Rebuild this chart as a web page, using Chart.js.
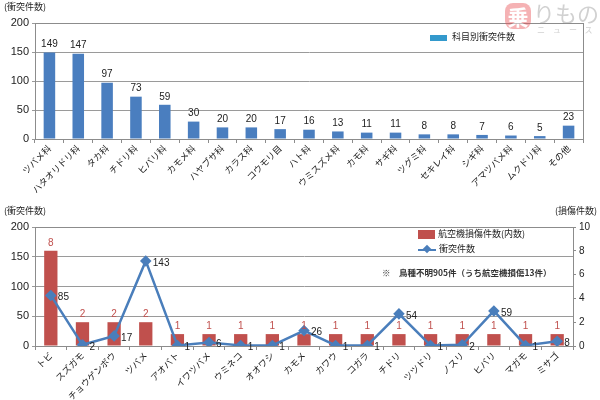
<!DOCTYPE html>
<html>
<head>
<meta charset="utf-8">
<script src="https://cdn.jsdelivr.net/npm/chart.js@4.4.0/dist/chart.umd.min.js"></script>
<style>
body{margin:0;width:600px;height:400px;position:relative;background:#fff;overflow:hidden;font-family:"Noto Sans CJK JP",sans-serif}
canvas{position:absolute;left:0}
.txt{position:absolute;white-space:nowrap;color:#222;font-size:9px;line-height:12px}
.sw{display:inline-block;vertical-align:middle}
.logo{position:absolute;opacity:.45;white-space:nowrap}
</style>
</head>
<body>
<canvas id="topChart" width="600" height="200" style="top:0"></canvas>
<canvas id="bottomChart" width="600" height="200" style="top:200px"></canvas>

<div class="txt" style="left:4px;top:1px">(衝突件数)</div>
<div class="txt" style="left:430px;top:31px"><span class="sw" style="width:17px;height:6px;background:#3399cc;margin-right:5px"></span>科目別衝突件数</div>

<div class="txt" style="left:4px;top:205px">(衝突件数)</div>
<div class="txt" style="left:555px;top:205px">(損傷件数)</div>
<div class="txt" style="left:418px;top:228px"><span class="sw" style="width:17px;height:9px;background:#c0504d;margin-right:3px"></span>航空機損傷件数(内数)</div>
<div class="txt" style="left:418px;top:243px"><span class="sw" style="width:18px;height:2px;background:#4a7ebb;margin-right:3px;position:relative"><span style="position:absolute;left:6px;top:-3px;width:6px;height:6px;background:#4a7ebb;transform:rotate(45deg)"></span></span>衝突件数</div>
<div class="txt" style="left:382px;top:266px;font-size:8.5px;font-weight:bold;color:#333">※　鳥種不明905件（うち航空機損傷13件）</div>

<div class="logo" style="left:505px;top:3px;width:26px;height:26px;border-radius:8px;background:#e8555a;color:#fff;font-size:21px;line-height:26px;text-align:center;font-weight:bold">乗</div>
<div class="logo" style="left:533px;top:-1px;font-size:22px;color:#999;line-height:26px">りもの</div>
<div class="logo" style="left:537px;top:25px;font-size:8px;color:#999;letter-spacing:8px;line-height:10px">ニュース</div>

<script>
// top chart: collisions by family
var familyLabels = ["ツバメ科", "ハタオリドリ科", "タカ科", "チドリ科", "ヒバリ科", "カモメ科", "ハヤブサ科", "カラス科", "コウモリ目", "ハト科", "ウミスズメ科", "カモ科", "サギ科", "ツグミ科", "セキレイ科", "シギ科", "アマツバメ科", "ムクドリ科", "その他"];
var familyCounts = [149, 147, 97, 73, 59, 30, 20, 20, 17, 16, 13, 11, 11, 8, 8, 7, 6, 5, 23];

// bottom chart: species with aircraft damage
var speciesLabels = ["トビ", "スズガモ", "チョウゲンボウ", "ツバメ", "アオバト", "イワツバメ", "ウミネコ", "オオワシ", "カモメ", "カワウ", "コガラ", "チドリ", "ツツドリ", "ノスリ", "ヒバリ", "マガモ", "ミサゴ"];
var damageCounts = [8, 2, 2, 2, 1, 1, 1, 1, 1, 1, 1, 1, 1, 1, 1, 1, 1];
var collisionCounts = [85, 2, 17, 143, 1, 6, 1, 1, 26, 1, 1, 54, 1, 2, 59, 1, 8];

var leftTicks = [0, 50, 100, 150, 200];
var rightTicks = [0, 2, 4, 6, 8, 10];

var numFont = "Liberation Sans, Arial, sans-serif";
var jpFont = "Noto Sans CJK JP, sans-serif";

// draws numbers next to bars / points, plus the plot border
var valueLabels = {
    id: "valueLabels",
    afterDatasetsDraw: function(chart){
        var ctx = chart.ctx;
        var area = chart.chartArea;
        ctx.save();
        ctx.strokeStyle = "#8c8c8c";
        ctx.lineWidth = 1;
        ctx.strokeRect(Math.round(area.left) + 0.5, Math.round(area.top) + 0.5, Math.round(area.right - area.left), Math.round(area.bottom - area.top));
        chart.data.datasets.forEach(function(ds, i){
            var meta = chart.getDatasetMeta(i);
            ctx.font = "10px " + numFont;
            meta.data.forEach(function(el, j){
                var v = ds.data[j];
                if(ds.type === "line"){
                    ctx.fillStyle = "#222";
                    ctx.textAlign = "left";
                    ctx.textBaseline = "middle";
                    ctx.fillText(v, el.x + 7, el.y + 2);
                } else {
                    ctx.fillStyle = ds.labelColor;
                    ctx.textAlign = "center";
                    ctx.textBaseline = "bottom";
                    ctx.fillText(v, el.x, el.y - 3);
                }
            });
        });
        ctx.restore();
    }
};

function fixWidth(w){ return function(scale){ scale.width = w; }; }
function fixHeight(h){ return function(scale){ scale.height = h; }; }

var topChart = new Chart(document.getElementById("topChart"), {
    type: "bar",
    data: {
        labels: familyLabels,
        datasets: [{
            data: familyCounts,
            backgroundColor: "#4a7ebf",
            labelColor: "#222",
            barPercentage: 0.4,
            categoryPercentage: 1
        }]
    },
    options: {
        responsive: false,
        animation: false,
        layout: { padding: { top: 23, right: 17, left: 0, bottom: 0 } },
        plugins: { legend: { display: false }, tooltip: { enabled: false } },
        scales: {
            x: {
                afterFit: fixHeight(61),
                grid: { drawOnChartArea: false, tickLength: 4, color: "#8c8c8c" },
                border: { color: "#8c8c8c" },
                ticks: { autoSkip: false, minRotation: 45, maxRotation: 45, padding: 0, color: "#222", font: { family: jpFont, size: 9 } }
            },
            y: {
                min: 0, max: 200,
                afterFit: fixWidth(35),
                afterBuildTicks: function(scale){ scale.ticks = leftTicks.map(function(v){ return { value: v }; }); },
                grid: { color: "#9a9a9a", tickLength: 3 },
                border: { color: "#8c8c8c" },
                ticks: { padding: 3, color: "#222", font: { family: numFont, size: 11 } }
            }
        }
    },
    plugins: [valueLabels]
});

var bottomChart = new Chart(document.getElementById("bottomChart"), {
    data: {
        labels: speciesLabels,
        datasets: [{
            type: "line",
            data: collisionCounts,
            yAxisID: "y",
            borderColor: "#4a7ebb",
            backgroundColor: "#4a7ebb",
            borderWidth: 2.5,
            pointStyle: "rectRot",
            pointRadius: 4,
            tension: 0,
            order: 0
        }, {
            type: "bar",
            data: damageCounts,
            yAxisID: "y2",
            backgroundColor: "#c0504d",
            labelColor: "#c0504d",
            barPercentage: 0.42,
            categoryPercentage: 1,
            order: 1
        }]
    },
    options: {
        responsive: false,
        animation: false,
        layout: { padding: { top: 27, right: 0, left: 0, bottom: 0 } },
        plugins: { legend: { display: false }, tooltip: { enabled: false } },
        scales: {
            x: {
                offset: true,
                afterFit: fixHeight(54),
                grid: { offset: true, drawOnChartArea: false, tickLength: 4, color: "#8c8c8c" },
                border: { color: "#8c8c8c" },
                ticks: { autoSkip: false, minRotation: 45, maxRotation: 45, padding: 0, color: "#222", font: { family: jpFont, size: 9 } }
            },
            y: {
                position: "left",
                min: 0, max: 200,
                afterFit: fixWidth(35),
                afterBuildTicks: function(scale){ scale.ticks = leftTicks.map(function(v){ return { value: v }; }); },
                grid: { color: "#9a9a9a", tickLength: 3 },
                border: { color: "#8c8c8c" },
                ticks: { padding: 3, color: "#222", font: { family: numFont, size: 11 } }
            },
            y2: {
                position: "right",
                min: 0, max: 10,
                afterFit: fixWidth(27),
                afterBuildTicks: function(scale){ scale.ticks = rightTicks.map(function(v){ return { value: v }; }); },
                grid: { drawOnChartArea: false, tickLength: 3, color: "#8c8c8c" },
                border: { color: "#8c8c8c" },
                ticks: { padding: 3, color: "#222", font: { family: numFont, size: 10 } }
            }
        }
    },
    plugins: [valueLabels]
});
</script>
</body>
</html>
